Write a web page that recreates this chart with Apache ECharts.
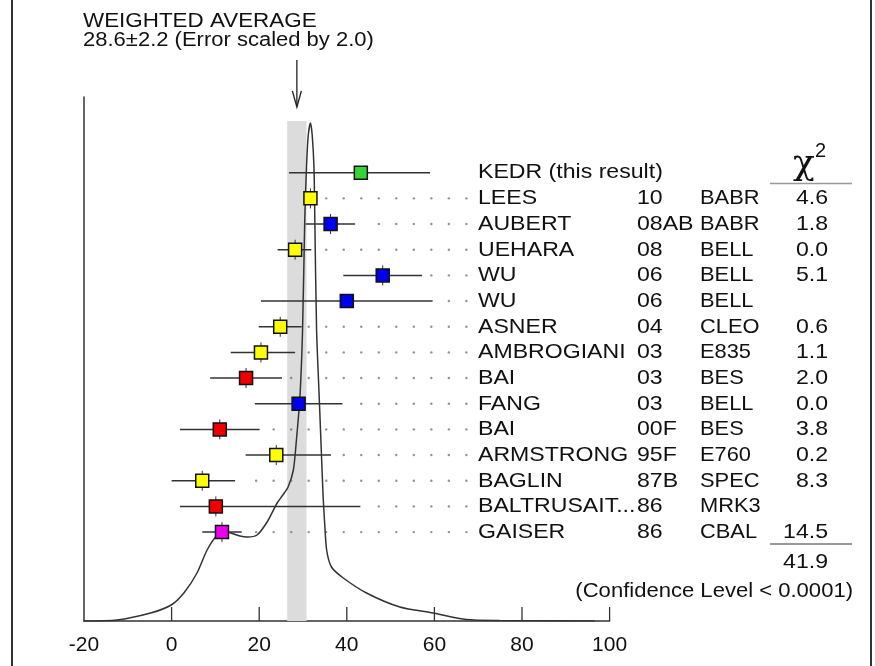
<!DOCTYPE html>
<html>
<head>
<meta charset="utf-8">
<script src="https://cdn.jsdelivr.net/npm/echarts@6/dist/echarts.min.js"></script>
<style>html,body{margin:0;padding:0;background:#fff}#c{width:875px;height:666px}</style>
</head>
<body>
<div id="c"></div>
<script>
// ---- data ----
const names  = ['KEDR (this result)','LEES','AUBERT','UEHARA','WU','WU','ASNER','AMBROGIANI','BAI','FANG','BAI','ARMSTRONG','BAGLIN','BALTRUSAIT...','GAISER'];
const years  = ['','10','08AB','08','06','06','04','03','03','03','00F','95F','87B','86','86'];
const expts  = ['','BABR','BABR','BELL','BELL','BELL','CLEO','E835','BES','BELL','BES','E760','SPEC','MRK3','CBAL'];
const chi2   = ['','4.6','1.8','0.0','5.1','','0.6','1.1','2.0','0.0','3.8','0.2','8.3','','14.5'];
const values = [43.2, 31.7, 36.3, 28.2, 48.2, 40.0, 24.8, 20.4, 17.0, 29.0, 11.0, 23.9, 7.0, 10.1, 11.5];
const errMinus = [16.4, 1.4, 5.7, 4.0, 9.0, 19.6, 4.9, 6.9, 8.2, 10.0, 9.1, 7.0, 7.0, 8.2, 4.5];
const errPlus  = [15.8, 1.4, 5.6, 3.7, 9.0, 19.6, 4.9, 7.8, 8.2, 10.0, 9.1, 12.5, 7.5, 33.0, 4.5];
const markerColors = ['#33d633','#ffff00','#0000ee','#ffff00','#0000ee','#0000ee','#ffff00','#ffff00','#ee0000','#0000ee','#ee0000','#ffff00','#ffff00','#ee0000','#ee00ee'];
const rowsWithoutTick = [0, 5, 9];
const leaderRows = [1,2,3,4,5,6,7,8,9,10,11,12,13,14];
const avgValue = 28.6, avgError = 2.2, errScale = '2.0';
const chi2Total = '41.9';
const confidence = '(Confidence Level < 0.0001)';
const xTicks = [0, 20, 40, 60, 80, 100];
// ideogram curve: [x, height]
const curveX = [-20,-12.5,-4.8,-0.1,2.8,5.8,8.1,10.4,11.9,13.5,15.6,17.3,19.5,21.8,24.1,25.4,26.6,27.8,28.5,29.3,29.9,30.4,30.8,31.2,31.7,32.1,32.5,32.7,33.1,33.7,34.2,34.6,34.9,35.4,36.5,39.2,44.5,52.1,59.7,67.3,74.9,96.6];
const curveH = [0,1,8,16,28,48,71,86,89,88,85,84,86,99,118,126,134,151,181,224,291,401,454,486,498,486,454,401,291,224,168,124,101,71,54,43,28,14,8,1.5,0.5,0];

// ---- build ----
const FONT = '"Liberation Sans", Arial, Helvetica, sans-serif';
const curveData = curveX.map((x, i) => [x, curveH[i]]);
const barData = values.map((v, i) => [v, v - errMinus[i], v + errPlus[i], i]);
const dotData = [];
leaderRows.forEach(i => {
  const hi = values[i] + errPlus[i];
  for (let k = 0; k <= 16; k++) {
    const x = 3.3 + 4 * k;
    if (x > hi + 1.5) dotData.push([x, i]);
  }
});
const rowData = names.map((n, i) => [0, i]);

const chart = echarts.init(document.getElementById('c'), null, {renderer: 'canvas'});
const txt = (text, x, y, align, size, sx) => ({
  type: 'text', x: x, y: y, scaleX: sx || 1,
  style: {text: text, fill: '#111', font: size + 'px ' + FONT, textAlign: align, textVerticalAlign: 'middle', align: align, verticalAlign: 'middle'}
});
const TS = 1.1;

chart.setOption({
  animation: false,
  backgroundColor: '#fff',
  grid: {left: 84, right: 265.4, top: 97, bottom: 45},
  xAxis: {
    type: 'value', min: -20, max: 100, interval: 20,
    axisLine: {show: true, onZero: false, lineStyle: {color: '#333', width: 1.5}},
    axisTick: {show: false},
    axisLabel: {fontSize: 21, color: '#111', fontFamily: FONT, margin: 14, showMinLabel: true, showMaxLabel: true},
    splitLine: {show: false}
  },
  yAxis: [
    {type: 'value', min: 0, max: 524, show: true,
     axisLine: {show: true, onZero: false, lineStyle: {color: '#333', width: 1.5}},
     axisTick: {show: false}, axisLabel: {show: false}, splitLine: {show: false}},
    {type: 'value', min: -2.949, max: 17.464, inverse: true, show: false, splitLine: {show: false}}
  ],
  series: [
    { // weighted average band
      type: 'custom', yAxisIndex: 0, z: 1, data: [[avgValue - avgError, avgValue + avgError]],
      renderItem: (p, api) => {
        const a = api.coord([api.value(0), 500]);
        const b = api.coord([api.value(1), 0]);
        return {type: 'rect', shape: {x: a[0], y: a[1], width: b[0] - a[0], height: b[1] - a[1]}, style: {fill: '#dcdcdc'}};
      }
    },
    { // x-axis ticks pointing up
      type: 'custom', yAxisIndex: 0, z: 2, data: xTicks.map(t => [t]),
      renderItem: (p, api) => {
        const b = api.coord([api.value(0), 0]);
        return {type: 'line', shape: {x1: b[0], y1: b[1], x2: b[0], y2: b[1] - 14}, style: {stroke: '#333', lineWidth: 1.3}};
      }
    },
    { // arrow
      type: 'custom', yAxisIndex: 0, z: 5, data: [[avgValue]],
      renderItem: (p, api) => {
        const t = api.coord([api.value(0), 561]);
        const b = api.coord([api.value(0), 514]);
        return {type: 'group', children: [
          {type: 'line', shape: {x1: t[0], y1: t[1], x2: b[0], y2: b[1]}, style: {stroke: '#222', lineWidth: 1.3}},
          {type: 'polyline', shape: {points: [[b[0] - 4.5, b[1] - 16], [b[0], b[1]], [b[0] + 4.5, b[1] - 16]]}, style: {stroke: '#222', lineWidth: 1.3, fill: null}}
        ]};
      }
    },
    { // leader dots
      type: 'scatter', yAxisIndex: 1, z: 3, data: dotData, symbol: 'circle', symbolSize: 2.4,
      itemStyle: {color: '#777'}, silent: true
    },
    { // ideogram curve
      type: 'line', yAxisIndex: 0, z: 4, data: curveData, smooth: 0.25, showSymbol: false, symbol: 'none',
      lineStyle: {color: '#333', width: 1.5}
    },
    { // error bars and markers
      type: 'custom', yAxisIndex: 1, z: 6, data: barData,
      encode: {x: [0, 1, 2], y: 3},
      renderItem: (p, api) => {
        const row = api.value(3);
        const c = api.coord([api.value(0), row]);
        const l = api.coord([api.value(1), row]);
        const r = api.coord([api.value(2), row]);
        const ch = [
          {type: 'line', shape: {x1: l[0], y1: l[1], x2: r[0], y2: r[1]}, style: {stroke: '#333', lineWidth: 1.5}}
        ];
        if (rowsWithoutTick.indexOf(row) < 0) {
          ch.push({type: 'line', shape: {x1: c[0], y1: c[1] - 10, x2: c[0], y2: c[1] + 10}, style: {stroke: '#333', lineWidth: 1}});
        }
        ch.push({type: 'rect', shape: {x: c[0] - 6.5, y: c[1] - 6.5, width: 13, height: 13}, style: {fill: markerColors[row], stroke: '#111', lineWidth: 1.5}});
        return {type: 'group', children: ch};
      }
    },
    { // table text
      type: 'custom', yAxisIndex: 1, z: 7, data: rowData,
      renderItem: (p, api) => {
        const row = api.value(1);
        const y = api.coord([0, row])[1];
        return {type: 'group', children: [
          txt(names[row], 478, y, 'left', 21, TS),
          txt(years[row], 637, y, 'left', 21, TS),
          txt(expts[row], 700, y, 'left', 21, 1.04),
          txt(chi2[row], 828, y, 'right', 21, TS)
        ]};
      }
    }
  ],
  graphic: [
    {type: 'line', shape: {x1: 12, y1: 0, x2: 12, y2: 666}, style: {stroke: '#333', lineWidth: 2}},
    {type: 'line', shape: {x1: 871, y1: 0, x2: 871, y2: 666}, style: {stroke: '#333', lineWidth: 2}},
    txt('WEIGHTED AVERAGE', 83, 21, 'left', 20, 1.12),
    txt(avgValue.toFixed(1) + '\u00b1' + avgError.toFixed(1) + ' (Error scaled by ' + errScale + ')', 83, 40, 'left', 20, 1.1),
    {type: 'text', x: 793, y: 165, style: {text: '\u03c7', fill: '#111', font: '36px "DejaVu Serif", serif', textAlign: 'left', textVerticalAlign: 'middle', align: 'left', verticalAlign: 'middle'}},
    txt('2', 815, 151, 'left', 20),
    {type: 'line', shape: {x1: 770, y1: 183.5, x2: 852, y2: 183.5}, style: {stroke: '#999', lineWidth: 1.5}},
    {type: 'line', shape: {x1: 770, y1: 544, x2: 852, y2: 544}, style: {stroke: '#777', lineWidth: 1.5}},
    txt(chi2Total, 828, 562, 'right', 21, TS),
    txt(confidence, 853, 591, 'right', 21, 1.05)
  ]
});
</script>
</body>
</html>
